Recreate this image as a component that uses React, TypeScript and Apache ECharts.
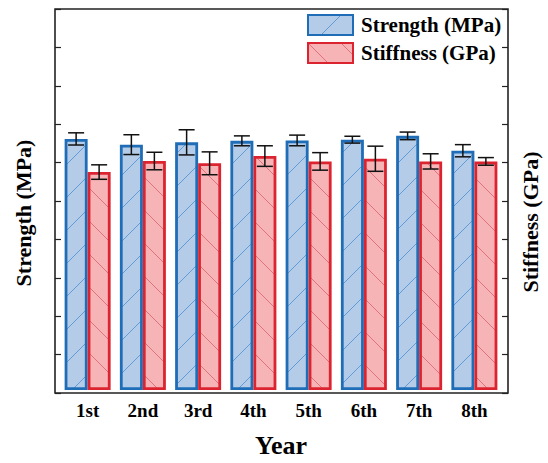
import React, { useEffect, useRef } from "react";
import * as echarts from "echarts";

const categories = ["1st", "2nd", "3rd", "4th", "5th", "6th", "7th", "8th"];
const strength = [6.59, 6.44, 6.5, 6.54, 6.55, 6.57, 6.67, 6.28];
const strengthErr = [0.16, 0.26, 0.33, 0.13, 0.14, 0.09, 0.1, 0.16];
const stiffness = [5.72, 6.01, 5.95, 6.14, 6.0, 6.07, 6.0, 6.0];
const stiffnessErr = [0.19, 0.23, 0.3, 0.27, 0.23, 0.33, 0.2, 0.1];
const yMin = 0;
const yMax = 10;
const yInterval = 1;

const FONT = "'Liberation Serif', 'Times New Roman', serif";
const BAR_W = 23;

function hatch(bg: string, stroke: string, dir: string) {
  const s = 33;
  const d =
    dir === "/"
      ? `M0 ${s} L${s} 0 M-3 3 L3 -3 M${s - 3} ${s + 3} L${s + 3} ${s - 3}`
      : `M0 0 L${s} ${s} M${s - 3} -3 L${s + 3} 3 M-3 ${s - 3} L3 ${s + 3}`;
  const svg = `<svg xmlns='http://www.w3.org/2000/svg' width='${s}' height='${s}'><rect width='${s}' height='${s}' fill='${bg}'/><path d='${d}' stroke='${stroke}' stroke-width='1' fill='none'/></svg>`;
  return {
    image: "data:image/svg+xml;charset=utf-8," + encodeURIComponent(svg),
    repeat: "repeat",
    imageWidth: s,
    imageHeight: s,
  };
}

function errSeries(name: string, vals: number[], errs: number[], offset: number) {
  return {
    type: "custom",
    name,
    xAxisIndex: 1,
    yAxisIndex: 2,
    z: 10,
    silent: true,
    encode: { x: 0, y: 1 },
    data: vals.map((v, i) => [i, v, errs[i]]),
    renderItem: (params: any, api: any) => {
      const x = api.value(0);
      const v = api.value(1);
      const e = api.value(2);
      const hi = api.coord([x, v + e]);
      const lo = api.coord([x, v - e]);
      const cx = hi[0] + offset;
      const cap = 8;
      const st = { stroke: "#111", lineWidth: 1.5 };
      return {
        type: "group",
        children: [
          { type: "line", shape: { x1: cx, y1: hi[1], x2: cx, y2: lo[1] }, style: st },
          { type: "line", shape: { x1: cx - cap, y1: hi[1], x2: cx + cap, y2: hi[1] }, style: st },
          { type: "line", shape: { x1: cx - cap, y1: lo[1], x2: cx + cap, y2: lo[1] }, style: st },
        ],
      };
    },
  };
}

export default function App() {
  const ref = useRef<HTMLDivElement>(null);
  useEffect(() => {
    document.body.style.margin = "0";
    if (!ref.current) return;
    const chart = echarts.init(ref.current, null, { renderer: "svg" });
    const blue = hatch("#b5cce8", "#5f9bd6", "/");
    const red = hatch("#f7b4b7", "#e0727c", "\\");
    const tickStyle = { color: "#222", width: 1.2 };
    chart.setOption({
      animation: false,
      backgroundColor: "#fff",
      grid: [
        { left: 55, top: 9, right: 40, bottom: 70, show: true, borderColor: "#222", borderWidth: 1.6 },
        { left: 60, top: 9, right: 46, bottom: 70 },
      ],
      legend: {
        data: ["Strength (MPa)", "Stiffness (GPa)"],
        orient: "vertical",
        left: 302,
        top: 9,
        icon: "rect",
        itemWidth: 45,
        itemHeight: 20,
        itemGap: 6,
        textStyle: { fontFamily: FONT, fontWeight: "bold", fontSize: 21, color: "#000", padding: [0, 0, 0, 3] },
      },
      xAxis: [
        {
          gridIndex: 0,
          type: "category",
          data: categories,
          axisLine: { show: false },
          axisTick: { show: false },
          axisLabel: { show: false },
        },
        {
          gridIndex: 1,
          type: "category",
          data: categories,
          axisLine: { show: false },
          axisTick: { show: false },
          axisLabel: { fontFamily: FONT, fontWeight: "bold", fontSize: 19, color: "#000", margin: 11 },
          name: "Year",
          nameLocation: "middle",
          nameGap: 42,
          nameTextStyle: { fontFamily: FONT, fontWeight: "bold", fontSize: 26, color: "#000" },
        },
      ],
      yAxis: [
        {
          gridIndex: 0,
          type: "value",
          position: "left",
          min: yMin,
          max: yMax,
          interval: yInterval,
          axisLine: { show: false },
          axisTick: { show: true, inside: true, length: 6, lineStyle: tickStyle },
          axisLabel: { show: false },
          splitLine: { show: false },
        },
        {
          gridIndex: 0,
          type: "value",
          position: "right",
          min: yMin,
          max: yMax,
          interval: yInterval,
          axisLine: { show: false },
          axisTick: { show: true, inside: true, length: 6, lineStyle: tickStyle },
          axisLabel: { show: false },
          splitLine: { show: false },
        },
        {
          gridIndex: 1,
          type: "value",
          min: yMin,
          max: yMax,
          interval: yInterval,
          show: false,
        },
      ],
      series: [
        {
          type: "bar",
          name: "Strength (MPa)",
          xAxisIndex: 1,
          yAxisIndex: 2,
          barWidth: BAR_W,
          barGap: "0%",
          data: strength,
          itemStyle: { color: blue, borderColor: "#1f6db6", borderWidth: 2.8 },
        },
        {
          type: "bar",
          name: "Stiffness (GPa)",
          xAxisIndex: 1,
          yAxisIndex: 2,
          barWidth: BAR_W,
          barGap: "0%",
          data: stiffness,
          itemStyle: { color: red, borderColor: "#dc2430", borderWidth: 2.8 },
        },
        errSeries("errStrength", strength, strengthErr, -BAR_W / 2),
        errSeries("errStiffness", stiffness, stiffnessErr, BAR_W / 2),
      ],
      graphic: [
        {
          type: "text",
          x: 23,
          y: 213,
          rotation: Math.PI / 2,
          style: {
            text: "Strength (MPa)",
            font: `bold 22px ${FONT}`,
            fill: "#000",
            align: "center",
            verticalAlign: "middle",
          },
        },
        {
          type: "text",
          x: 530,
          y: 222,
          rotation: Math.PI / 2,
          style: {
            text: "Stiffness (GPa)",
            font: `bold 22px ${FONT}`,
            fill: "#000",
            align: "center",
            verticalAlign: "middle",
          },
        },
      ],
    });
    return () => chart.dispose();
  }, []);
  return <div ref={ref} style={{ width: 548, height: 463 }} />;
}
